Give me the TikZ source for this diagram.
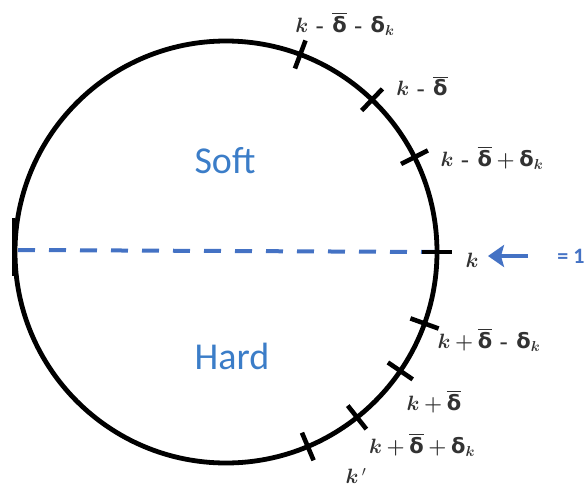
\documentclass[tikz,border=0pt]{standalone}
\usepackage{fontspec}
\usepackage{amsmath}
\usepackage{bm}
\newfontfamily\calib{Carlito}
\newfontfamily\grk{DejaVu Sans}
\usetikzlibrary{arrows.meta,calc}
\definecolor{softblue}{RGB}{59,125,200}
\definecolor{dashblue}{RGB}{68,114,196}
\definecolor{lblgray}{RGB}{50,50,50}
\newcommand\kk{\bm{k}}
\newcommand\dl{\text{\grk\bfseries δ}}
\newcommand\db{\overline{\dl}}
\newcommand\dk{\dl_{\kk}}
\newcommand\mn{\mathbin{\,\textbf{-}\,}}
\newcommand\pl{\mathbin{\bm{+}}}
\begin{document}
\begin{tikzpicture}[x=1pt,y=-1pt,
  ring/.style={line width=4.8pt,black},
  tickmark/.style={line width=4.6pt,black},
  lbl/.style={inner sep=0pt,text=lblgray,font=\fontsize{21}{24}\selectfont},
  region/.style={inner sep=0pt,text=softblue,font=\calib\fontsize{38}{44}\selectfont},
  halfline/.style={dashblue,line width=4pt,dash pattern=on 17pt off 14pt},
  pointer/.style={dashblue,line width=4.5pt,-{Stealth[length=16pt,width=22pt,inset=3pt]}}]
\useasboundingbox (0,0) rectangle (587,491);
\coordinate (c) at (226,252);
\draw[ring] (c) circle (211pt);
% ticks
\foreach \a/\n in {69.4/t1,46.2/t2,26.7/t3,0/t4,-19.8/t5,-34.3/t6,-51.6/t7,-67.2/t8}{
  \coordinate (\n) at ($(c)+(\a:211pt)$);
  \coordinate (\n i) at ($(c)+(\a:196pt)$);
  \coordinate (\n o) at ($(c)+(\a:226pt)$);
}
\draw[halfline] (18,250) -- (t4);
\foreach \n in {t1,t2,t3,t4,t5,t6,t7,t8}{
  \draw[tickmark] (\n i) -- (\n o);
}
\draw[line width=2.5pt] (13.5,218) -- (13.5,276);
% labels
\node[lbl] (l1) at (345,24) {$\kk\mn\db\mn\dk$};
\node[lbl] (l2) at (422,86) {$\kk\mn\db$};
\node[lbl] (l3) at (492,158) {$\kk\mn\db\pl\dk$};
\node[lbl] (l4) at (472,260) {$\kk$};
\node[lbl] (l5) at (489,340) {$\kk\pl\db\mn\dk$};
\node[lbl] (l6) at (434,402) {$\kk\pl\db$};
\node[lbl] (l7) at (422,445) {$\kk\pl\db\pl\dk$};
\node[lbl] (l8) at (356,476) {$\kk\,'$};
\node[region] (soft) at (225,161) {Soft};
\node[region] (hard) at (232,356) {Hard};
\node[inner sep=0pt,text=dashblue,font=\calib\bfseries\fontsize{22}{26}\selectfont] (eq) at (571,256) {= 1};
\coordinate (tail) at (528,256);
\draw[pointer] (tail) -- (488,256);
\end{tikzpicture}
\end{document}
